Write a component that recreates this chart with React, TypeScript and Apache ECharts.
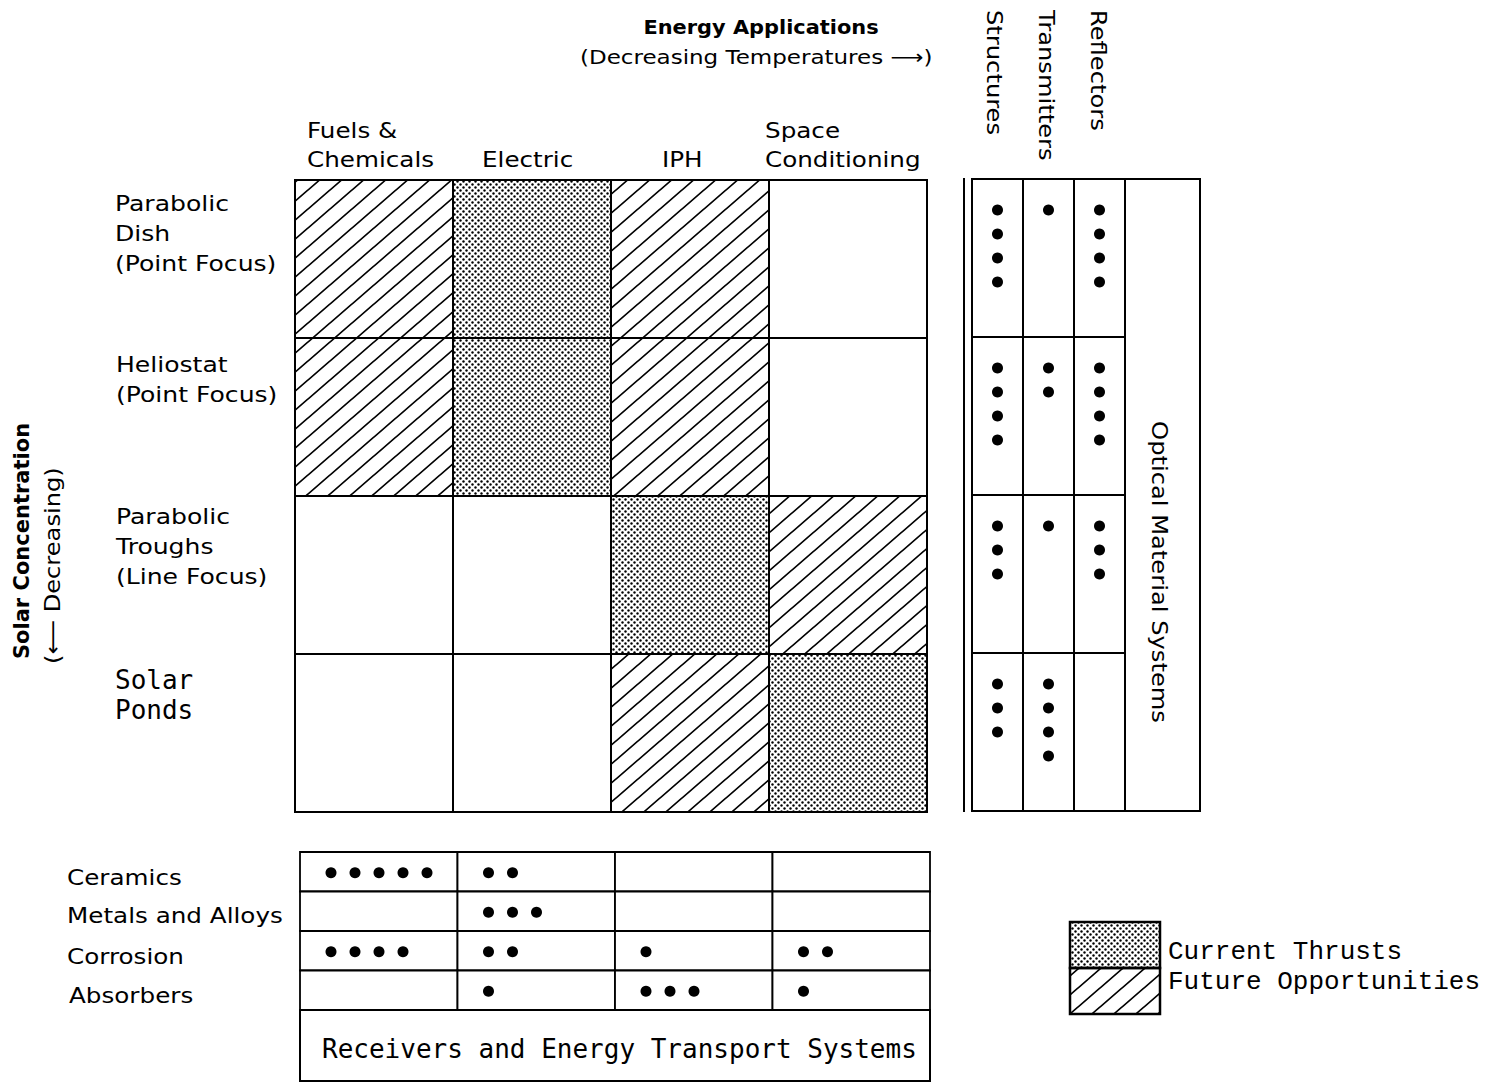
import React, { useEffect, useRef } from 'react';
import * as echarts from 'echarts';

// ---------------- categories ----------------
const applications = ['Fuels &\nChemicals', 'Electric', 'IPH', 'Space\nConditioning'];
const concentrators = [
  'Parabolic\nDish\n(Point Focus)',
  'Heliostat\n(Point Focus)',
  'Parabolic\nTroughs\n(Line Focus)',
  'Solar\nPonds',
];
const opticalComponents = ['Structures', 'Transmitters', 'Reflectors'];
const receiverTopics = ['Ceramics', 'Metals and Alloys', 'Corrosion', 'Absorbers'];

// ---------------- data ----------------
// thrust codes per concentrator row across applications: C = current thrusts, F = future opportunities, '' = none
const parabolicDishThrusts = ['F', 'C', 'F', ''];
const heliostatThrusts = ['F', 'C', 'F', ''];
const parabolicTroughThrusts = ['', '', 'C', 'F'];
const solarPondThrusts = ['', '', 'F', 'C'];

// optical material dots per concentrator row
const structuresDots = [4, 4, 3, 3];
const transmittersDots = [1, 2, 1, 4];
const reflectorsDots = [4, 4, 3, 0];

// receivers & energy transport dots per application column
const ceramicsDots = [5, 2, 0, 0];
const metalsAlloysDots = [0, 3, 0, 0];
const corrosionDots = [4, 2, 1, 2];
const absorbersDots = [0, 1, 3, 1];

// ---------------- texts ----------------
const legendItems = ['Current Thrusts', 'Future Opportunities'];
const titleText = 'Energy Applications';
const subtitleText = '(Decreasing Temperatures \u27F6)';
const yTitleText = 'Solar Concentration';
const ySubtitleText = '(\u27F5 Decreasing)';
const opticalTitle = 'Optical Material Systems';
const receiversTitle = 'Receivers and Energy Transport Systems';

// ---------------- layout (positions / styles) ----------------
const SANS = '"DejaVu Sans", sans-serif';
const MONO = '"DejaVu Sans Mono", monospace';
const TYPE = '"Liberation Mono", monospace';
const headerX = [307, 482, 662, 765];
const headerBottomY = 159;
const rowLabelX = [115, 116, 116, 115];
const rowLabelFirstY = [204, 365, 517, 680];
const receiverLabelY = [877, 915, 956, 995];
const opticalHeaderX = [995, 1047, 1099];
const DOT_R = 5.5;

const svgUrl = (s: string) => 'data:image/svg+xml;charset=utf-8,' + encodeURIComponent(s);
const hatchFill: any = {
  image: svgUrl(
    '<svg xmlns="http://www.w3.org/2000/svg" width="22" height="19"><path d="M-22 38L44 -19M-22 19L22 -19M0 38L44 0" stroke="#000" stroke-width="1.7" fill="none"/></svg>'
  ),
  repeat: 'repeat',
  imageWidth: 22,
  imageHeight: 19,
};
const dotFill: any = {
  image: svgUrl(
    '<svg xmlns="http://www.w3.org/2000/svg" width="6" height="6"><rect width="6" height="6" fill="#fff"/><circle cx="1.5" cy="1.5" r="1.2" fill="#000"/><circle cx="4.5" cy="4.5" r="1.2" fill="#000"/></svg>'
  ),
  repeat: 'repeat',
  imageWidth: 6,
  imageHeight: 6,
};
const cellFills: any[] = ['#fff', dotFill, hatchFill];

const txt = (
  text: string,
  x: number,
  y: number,
  o: { size?: number; family?: string; weight?: string; align?: string; rotation?: number; scaleX?: number } = {}
) => ({
  type: 'text',
  x,
  y,
  rotation: o.rotation || 0,
  scaleX: o.scaleX || 1,
  silent: true,
  style: {
    text,
    fontSize: o.size || 22,
    fontFamily: o.family || SANS,
    fontWeight: o.weight || 'normal',
    fill: '#000',
    align: o.align || 'left',
    verticalAlign: 'middle',
  },
});

export default function App() {
  const ref = useRef<HTMLDivElement>(null);

  useEffect(() => {
    if (!ref.current) return;
    const chart = echarts.init(ref.current, undefined, { renderer: 'svg' });

    const thrustRows = [parabolicDishThrusts, heliostatThrusts, parabolicTroughThrusts, solarPondThrusts];
    const thrustData = thrustRows.flatMap((row, r) =>
      row.map((code, c) => [c, r, code === 'C' ? 1 : code === 'F' ? 2 : 0])
    );
    const opticalCols = [structuresDots, transmittersDots, reflectorsDots];
    const opticalData = opticalCols.flatMap((col, c) => col.map((n, r) => [c, r, n]));
    const receiverRows = [ceramicsDots, metalsAlloysDots, corrosionDots, absorbersDots];
    const receiverData = receiverRows.flatMap((row, r) => row.map((n, c) => [c, r, n]));

    const cellRect = (api: any, fill: any, lw: number) => {
      const c = api.coord([api.value(0), api.value(1)]);
      const s = api.size([1, 1]);
      return {
        c,
        s,
        rect: {
          type: 'rect',
          shape: { x: c[0] - s[0] / 2, y: c[1] - s[1] / 2, width: s[0], height: s[1] },
          style: { fill, stroke: '#000', lineWidth: lw },
        },
      };
    };

    const graphics: any[] = [];
    // title
    graphics.push(txt(titleText, 761, 27, { size: 19, weight: 'bold', align: 'center', scaleX: 1.1 }));
    graphics.push(txt(subtitleText, 580, 57, { size: 20, scaleX: 1.15 }));
    // application headers
    applications.forEach((a, i) => {
      const lines = a.split('\n');
      lines.forEach((ln, j) => {
        graphics.push(txt(ln, headerX[i], headerBottomY - (lines.length - 1 - j) * 29, { scaleX: 1.12 }));
      });
    });
    // concentrator row labels
    concentrators.forEach((a, i) => {
      const mono = i === 3;
      a.split('\n').forEach((ln, j) => {
        graphics.push(
          txt(ln, rowLabelX[i], rowLabelFirstY[i] + j * 30, mono ? { size: 26, family: MONO } : { scaleX: 1.14 })
        );
      });
    });
    // y titles
    graphics.push(txt(yTitleText, 22, 541, { size: 21, weight: 'bold', align: 'center', rotation: Math.PI / 2 }));
    graphics.push(txt(ySubtitleText, 53, 664, { size: 21, rotation: Math.PI / 2, scaleX: 1.15 }));
    // optical headers
    opticalComponents.forEach((a, i) => {
      graphics.push(txt(a, opticalHeaderX[i], 10, { rotation: -Math.PI / 2, scaleX: 1.1 }));
    });
    // optical material systems column
    graphics.push({
      type: 'rect',
      silent: true,
      shape: { x: 1125, y: 179, width: 75, height: 632 },
      style: { fill: 'none', stroke: '#000', lineWidth: 2 },
    });
    graphics.push(txt(opticalTitle, 1160, 572, { align: 'center', rotation: -Math.PI / 2, scaleX: 1.1 }));
    graphics.push({
      type: 'line',
      silent: true,
      shape: { x1: 964, y1: 178, x2: 964, y2: 812 },
      style: { stroke: '#000', lineWidth: 2 },
    });
    // receivers labels
    receiverTopics.forEach((a, i) => {
      graphics.push(txt(a, i === 3 ? 69 : 67, receiverLabelY[i], { scaleX: 1.12 }));
    });
    graphics.push({
      type: 'rect',
      silent: true,
      shape: { x: 300, y: 1010, width: 630, height: 71 },
      style: { fill: 'none', stroke: '#000', lineWidth: 2 },
    });
    graphics.push(txt(receiversTitle, 322, 1049, { size: 26, family: MONO }));
    // legend
    [dotFill, hatchFill].forEach((f, i) => {
      graphics.push({
        type: 'rect',
        silent: true,
        shape: { x: 1070, y: 922 + i * 46, width: 90, height: 46 },
        style: { fill: f, stroke: '#000', lineWidth: 2.5 },
      });
    });
    legendItems.forEach((t, i) => {
      graphics.push(txt(t, 1168, 952 + i * 30, { size: 26, family: TYPE }));
    });

    const option: any = {
      animation: false,
      backgroundColor: '#fff',
      grid: [
        { left: 295, top: 180, width: 632, height: 632 },
        { left: 972, top: 179, width: 153, height: 632 },
        { left: 300, top: 852, width: 630, height: 158 },
      ],
      xAxis: [
        { type: 'category', gridIndex: 0, data: applications, show: false },
        { type: 'category', gridIndex: 1, data: opticalComponents, show: false },
        { type: 'category', gridIndex: 2, data: applications, show: false },
      ],
      yAxis: [
        { type: 'category', gridIndex: 0, data: concentrators, inverse: true, show: false },
        { type: 'category', gridIndex: 1, data: concentrators, inverse: true, show: false },
        { type: 'category', gridIndex: 2, data: receiverTopics, inverse: true, show: false },
      ],
      series: [
        {
          type: 'custom',
          name: 'Energy Applications',
          xAxisIndex: 0,
          yAxisIndex: 0,
          silent: true,
          data: thrustData,
          renderItem: (params: any, api: any) => cellRect(api, cellFills[api.value(2)], 2).rect,
        },
        {
          type: 'custom',
          name: 'Optical Material Systems',
          xAxisIndex: 1,
          yAxisIndex: 1,
          silent: true,
          data: opticalData,
          renderItem: (params: any, api: any) => {
            const { c, s, rect } = cellRect(api, '#fff', 2);
            const n = api.value(2);
            const top = c[1] - s[1] / 2;
            const children: any[] = [rect];
            for (let i = 0; i < n; i++) {
              children.push({ type: 'circle', shape: { cx: c[0], cy: top + 31 + i * 24, r: DOT_R }, style: { fill: '#000' } });
            }
            return { type: 'group', children };
          },
        },
        {
          type: 'custom',
          name: 'Receivers and Energy Transport Systems',
          xAxisIndex: 2,
          yAxisIndex: 2,
          silent: true,
          data: receiverData,
          renderItem: (params: any, api: any) => {
            const { c, s, rect } = cellRect(api, '#fff', 1.8);
            const n = api.value(2);
            const left = c[0] - s[0] / 2;
            const children: any[] = [rect];
            for (let i = 0; i < n; i++) {
              children.push({ type: 'circle', shape: { cx: left + 31 + i * 24, cy: c[1] + 1, r: DOT_R }, style: { fill: '#000' } });
            }
            return { type: 'group', children };
          },
        },
      ],
      graphic: graphics,
    };
    chart.setOption(option);
    return () => chart.dispose();
  }, []);

  return <div ref={ref} style={{ position: 'fixed', left: 0, top: 0, width: 1488, height: 1083 }} />;
}
